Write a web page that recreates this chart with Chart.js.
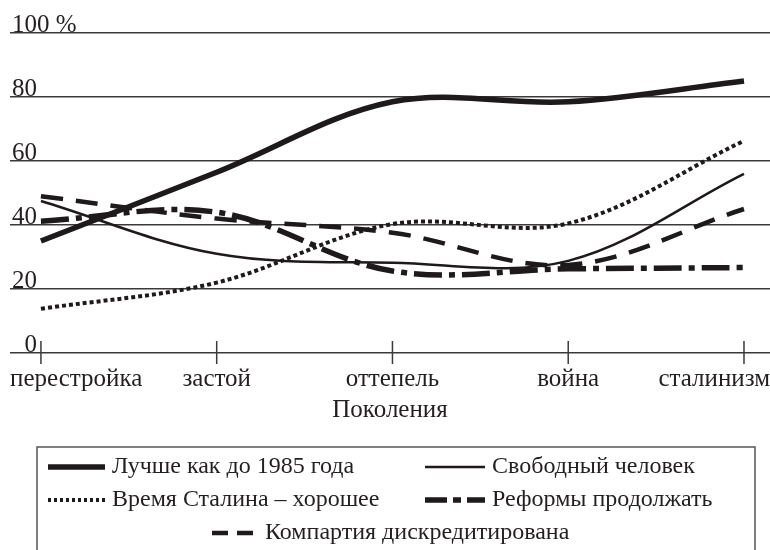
<!DOCTYPE html>
<html lang="ru">
<head>
<meta charset="utf-8">
<title>Поколения</title>
<script src="https://cdn.jsdelivr.net/npm/chart.js@4.4.1/dist/chart.umd.min.js"></script>
<style>
  html, body { margin: 0; padding: 0; background: #fff; }
  #wrap { width: 770px; height: 550px; }
</style>
</head>
<body>
<div id="wrap"><canvas id="chart"></canvas></div>
<script>
// категории по оси X (поколения)
const categories = ['перестройка', 'застой', 'оттепель', 'война', 'сталинизм'];
const axisTitle = 'Поколения';

// доли, %
const better1985 = [35, 56.5, 78.5, 78.5, 85];
const freeMan = [47.5, 31, 28.2, 28.8, 56];
const stalinGood = [13.8, 22, 40.3, 40.5, 66.3];
const reformsGo = [41.2, 44, 25.6, 26.3, 26.7];
const partyDiscredited = [49, 42, 37.6, 27.5, 45];

const yTicks = [0, 20, 40, 60, 80, 100];

const FONT = "'Liberation Serif', 'Times New Roman', serif";
const INK = '#1e1a1b';
const TEXT = '#231f20';
const GRID = '#3a3a3a';

const toPoints = arr => arr.map((v, i) => ({ x: i, y: v }));

// расположение элементов легенды (колонки / строки)
const legendRows = [467, 500, 533];
const legendItems = [
  { ds: 0, row: 0, x: 48, w: 57 },
  { ds: 1, row: 0, x: 425, w: 60 },
  { ds: 2, row: 1, x: 48, w: 57 },
  { ds: 3, row: 1, x: 425, w: 60 },
  { ds: 4, row: 2, x: 212, w: 46 }
];

const decor = {
  id: 'decor',
  afterDraw(chart) {
    const { ctx, chartArea, scales: { x, y } } = chart;
    const y0 = y.getPixelForValue(0);
    ctx.save();

    // засечки на оси X
    ctx.strokeStyle = GRID;
    ctx.lineWidth = 1.5;
    categories.forEach((c, i) => {
      const px = x.getPixelForValue(i);
      ctx.beginPath();
      ctx.moveTo(px, y0 - 12);
      ctx.lineTo(px, y0 + 11);
      ctx.stroke();
    });

    // подписи категорий, прижатые к краям области графика
    ctx.font = '25px ' + FONT;
    ctx.fillStyle = TEXT;
    ctx.textBaseline = 'middle';
    ctx.textAlign = 'left';
    categories.forEach((c, i) => {
      const w = ctx.measureText(c).width;
      let cx = x.getPixelForValue(i);
      cx = Math.max(chartArea.left + w / 2, Math.min(chartArea.right - w / 2, cx));
      ctx.fillText(c, cx - w / 2, y0 + 26);
    });

    // рамка легенды
    ctx.strokeStyle = '#555';
    ctx.lineWidth = 1.5;
    ctx.strokeRect(37, 447, 718, 120);

    // легенда
    ctx.font = '24px ' + FONT;
    legendItems.forEach(it => {
      const ds = chart.data.datasets[it.ds];
      const cy = legendRows[it.row];
      ctx.save();
      ctx.strokeStyle = ds.borderColor;
      ctx.lineWidth = ds.borderWidth;
      ctx.lineCap = 'butt';
      ctx.setLineDash(ds.legendDash || ds.borderDash || []);
      ctx.beginPath();
      ctx.moveTo(it.x, cy);
      ctx.lineTo(it.x + it.w, cy);
      ctx.stroke();
      ctx.restore();
      ctx.fillStyle = TEXT;
      ctx.fillText(ds.label, it.x + it.w + 7, cy);
    });
    ctx.restore();
  }
};

new Chart(document.getElementById('chart'), {
  type: 'line',
  data: {
    datasets: [
      { label: 'Лучше как до 1985 года', data: toPoints(better1985), borderColor: INK, borderWidth: 5.5, borderDash: [] },
      { label: 'Свободный человек', data: toPoints(freeMan), borderColor: INK, borderWidth: 2.5, borderDash: [] },
      { label: 'Время Сталина – хорошее', data: toPoints(stalinGood), borderColor: INK, borderWidth: 4, borderDash: [4, 3], legendDash: [3, 3] },
      { label: 'Реформы продолжать', data: toPoints(reformsGo), borderColor: INK, borderWidth: 5.5, borderDash: [28, 7, 6, 7], legendDash: [22, 6, 8, 6] },
      { label: 'Компартия дискредитирована', data: toPoints(partyDiscredited), borderColor: INK, borderWidth: 4.5, borderDash: [22, 13], legendDash: [16, 9] }
    ]
  },
  options: {
    responsive: true,
    maintainAspectRatio: false,
    animation: false,
    layout: { padding: { top: 33, left: 6, right: 0, bottom: 125 } },
    elements: {
      point: { radius: 0, hoverRadius: 0 },
      line: { tension: 0.35, fill: false, capBezierPoints: true }
    },
    scales: {
      x: {
        type: 'linear',
        min: -0.176,
        max: 4.148,
        afterBuildTicks: s => { s.ticks = categories.map((c, i) => ({ value: i })); },
        grid: { display: false },
        border: { display: false },
        ticks: { display: false },
        title: {
          display: true,
          text: axisTitle,
          color: TEXT,
          font: { family: FONT, size: 25 },
          padding: { top: 34, bottom: 0 }
        }
      },
      y: {
        min: 0,
        max: 100,
        afterBuildTicks: s => { s.ticks = yTicks.map(v => ({ value: v })); },
        border: { display: false },
        grid: { color: GRID, lineWidth: 1.5, drawTicks: false },
        ticks: {
          mirror: true,
          padding: 2,
          labelOffset: -8,
          color: TEXT,
          font: { family: FONT, size: 25 },
          callback: v => v === 100 ? '100 %' : (v === 0 ? '  0' : String(v))
        }
      }
    },
    plugins: {
      legend: { display: false },
      tooltip: { enabled: false }
    }
  },
  plugins: [decor]
});
</script>
</body>
</html>
